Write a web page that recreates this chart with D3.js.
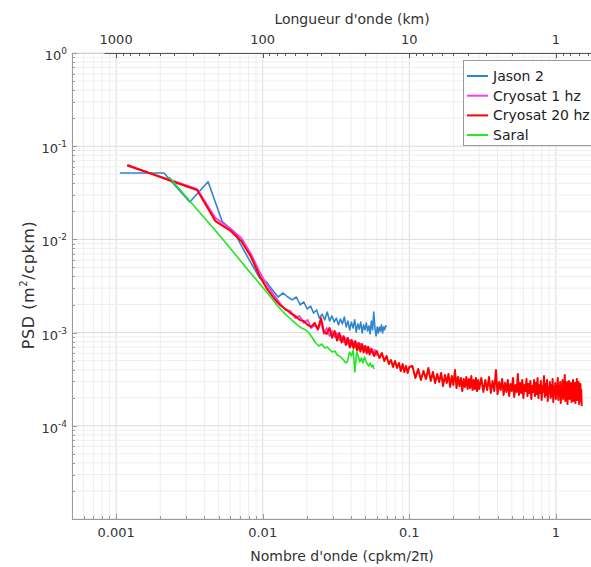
<!DOCTYPE html>
<html><head><meta charset="utf-8">
<script src="https://cdn.jsdelivr.net/npm/d3@7"></script>
<style>body{margin:0;background:#fff;} svg{display:block;font-family:"DejaVu Sans",sans-serif;}</style>
</head><body><svg id="c" width="591" height="567"></svg>
<script>
// ---------- data ----------
const xTickValues = [0.001, 0.01, 0.1, 1];
const xTickLabels = ["0.001", "0.01", "0.1", "1"];
const topTickValues = [1000, 100, 10, 1];
const topTickLabels = ["1000", "100", "10", "1"];
const yTickValues = [1, 0.1, 0.01, 0.001, 0.0001];
const yTickExponents = ["0", "-1", "-2", "-3", "-4"];
const seriesNames = ["Jason 2", "Cryosat 1 hz", "Cryosat 20 hz", "Saral"];
const seriesColors = ["#2f86cc", "#f23cf2", "#ff0000", "#22e622"];

const jasonFreq = [0.00106,0.00212,0.00318,0.00424,0.0053,0.00636,0.00742,0.00848,0.00954,0.0106,
0.01166,0.01272,0.01378,0.01484,0.0159,0.01696,0.01802,0.01908,0.02014,0.0212,
0.02226,0.02332,0.02438,0.02544,0.0265,0.02756,0.02862,0.02968,0.03074,0.0318,
0.03286,0.03392,0.03498,0.03604,0.0371,0.03816,0.03922,0.04028,0.04134,0.0424,
0.04346,0.04452,0.04558,0.04664,0.0477,0.04876,0.04982,0.05088,0.05194,0.053,
0.05406,0.05512,0.05618,0.05724,0.0583,0.05936,0.06042,0.06148,0.06254,0.0636,
0.06466,0.06572,0.06678,0.06784,0.0689,0.06996];
const jasonPsd = [0.0516,0.0516,0.0252,0.0416,0.0155,0.0121,0.0077,0.0053,0.00385,0.0035,
0.00286,0.00241,0.00266,0.00241,0.00224,0.00241,0.00198,0.00213,0.00179,0.00193,
0.00162,0.00175,0.00143,0.00158,0.00137,0.00166,0.00133,0.00151,0.0013,0.00143,
0.00121,0.0014,0.00124,0.00147,0.00115,0.00133,0.00107,0.0013,0.00112,0.00137,
0.00101,0.00124,0.00109,0.0013,0.00099,0.00121,0.00107,0.00127,0.00104,0.00118,
0.00097,0.00133,0.00107,0.00166,0.00112,0.00092,0.00115,0.00099,0.00115,0.00104,
0.00121,0.00099,0.00115,0.00107,0.00118,0.00115];

const cryo1Freq = [0.00119,0.00238,0.00357,0.00476,0.00595,0.00714,0.00833,0.00952,0.01071,0.0119,
0.01309,0.01428,0.01547,0.01666,0.01785,0.01904,0.02023,0.02142,0.02261,0.0238,
0.02499,0.02618,0.02737,0.02856,0.02975,0.03094,0.03213,0.03332,0.03451,0.0357,
0.03689,0.03808,0.03927,0.04046,0.04165,0.04284,0.04403,0.04522,0.04641,0.0476,
0.04879,0.04998,0.05117,0.05236,0.05355,0.05474,0.05593,0.05712,0.05831,0.0595,
0.06069];
const cryo1Psd = [0.0613,0.0434,0.0347,0.017,0.01326,0.01035,0.00697,0.00447,0.00324,0.00253,
0.00208,0.00175,0.00171,0.00143,0.00151,0.00127,0.00137,0.00112,0.00121,0.00107,
0.0013,0.00097,0.00112,0.00092,0.00104,0.000898,0.00099,0.000833,0.00092,0.000793,
0.000875,0.000755,0.000833,0.000718,0.000793,0.0007,0.000773,0.000667,0.000755,0.000667,
0.000718,0.000635,0.0007,0.000619,0.000684,0.000604,0.000667,0.000589,0.000651,0.000575,
0.000635];

const cryo20Freq = [0.00119,0.00238,0.00357,0.00476,0.00595,0.00714,0.00833,0.00952,0.01071,0.0119,
0.01309,0.01428,0.01547,0.01666,0.01785,0.01904,0.02023,0.02142,0.02261,0.0238,
0.02499,0.02618,0.02737,0.02856,0.02975,0.03094,0.03213,0.03332,0.03451,0.0357,
0.03689,0.03808,0.03927,0.04046,0.04165,0.04284,0.04403,0.04522,0.04641,0.0476,
0.04879,0.04998,0.05117,0.05236,0.05355,
0.055,0.0575,0.06,0.0625,0.065,0.0675,0.07,0.0725,0.075,0.0775,
0.08,0.0825,0.085,0.0875,0.09,0.0925,0.095,0.0975,0.1,
0.105,0.11,0.115,0.12,0.125,0.13,0.135,0.14,0.145,0.15,
0.155,0.16,0.165,0.17,0.175,0.18,0.185,0.19,0.195,0.2,
0.205,0.21,0.215,0.22,0.225,0.23,0.235,0.24,0.245,0.25,
0.255,0.26,0.265,0.27,0.275,0.28,0.285,0.29,0.295,0.3,
0.31,0.32,0.33,0.34,0.35,0.36,0.37,0.38,0.39,0.4,
0.41,0.42,0.43,0.44,0.45,0.46,0.47,0.48,0.49,0.5,
0.51,0.52,0.53,0.54,0.55,0.56,0.57,0.58,0.59,0.6,
0.61,0.62,0.63,0.64,0.65,0.66,0.67,0.68,0.69,0.7,
0.71,0.72,0.73,0.74,0.75,0.76,0.77,0.78,0.79,0.8,
0.81,0.82,0.83,0.84,0.85,0.86,0.87,0.88,0.89,0.9,
0.91,0.92,0.93,0.94,0.95,0.96,0.97,0.98,0.99,1.0,
1.01,1.02,1.03,1.04,1.05,1.06,1.07,1.08,1.09,1.1,
1.11,1.12,1.13,1.14,1.15,1.16,1.17,1.18,1.19,1.2,
1.21,1.22,1.23,1.24,1.25,1.26,1.27,1.28,1.29,1.3,
1.31,1.32,1.33,1.34,1.35,1.36,1.37,1.38,1.39,1.4,
1.41,1.42,1.43,1.44,1.45,1.46,1.47,1.48,1.49,1.5];
const cryo20Psd = [0.0629,0.0423,0.0339,0.0157,0.0126,0.00961,0.00647,0.00405,0.00294,0.00235,
0.00198,0.00179,0.00162,0.00151,0.00137,0.00133,0.00121,0.00115,0.00127,0.00109,
0.00143,0.00101,0.00097,0.00112,0.00088,0.00104,0.000822,0.00099,0.000782,0.000915,
0.000735,0.000875,0.000692,0.000833,0.000675,0.000812,0.000642,0.000775,0.000626,0.000755,
0.000612,0.00072,0.000598,0.000705,0.000582,
6.67e-4,5.61e-4,6.35e-4,5.34e-4,6.04e-4,4.95e-4,5.61e-4,4.61e-4,5.08e-4,4.28e-4,
4.95e-4,4.17e-4,4.72e-4,3.87e-4,4.61e-4,3.78e-4,4.38e-4,3.69e-4,4.28e-4,
4.38e-4,3.26e-4,4.07e-4,3.10e-4,3.87e-4,3.18e-4,4.17e-4,3.03e-4,3.78e-4,2.88e-4,
3.60e-4,2.95e-4,3.69e-4,2.67e-4,3.51e-4,2.88e-4,3.60e-4,2.61e-4,3.42e-4,2.74e-4,
3.97e-4,2.54e-4,3.34e-4,2.67e-4,3.26e-4,2.36e-4,3.18e-4,2.61e-4,3.34e-4,2.48e-4,
3.18e-4,2.54e-4,3.42e-4,2.42e-4,3.10e-4,2.48e-4,3.26e-4,2.36e-4,3.10e-4,2.48e-4,
3.26e-4,2.31e-4,3.10e-4,2.42e-4,3.34e-4,2.25e-4,3.03e-4,2.36e-4,3.97e-4,2.19e-4,
2.95e-4,2.42e-4,3.18e-4,2.14e-4,2.88e-4,2.31e-4,3.10e-4,2.09e-4,2.81e-4,2.36e-4,
3.26e-4,2.04e-4,2.74e-4,2.31e-4,3.60e-4,2.14e-4,2.88e-4,2.25e-4,3.10e-4,1.99e-4,
2.74e-4,2.36e-4,3.18e-4,2.09e-4,2.81e-4,2.25e-4,3.03e-4,1.94e-4,2.67e-4,2.31e-4,
3.10e-4,2.09e-4,2.88e-4,2.19e-4,3.26e-4,1.99e-4,2.74e-4,2.25e-4,3.03e-4,1.89e-4,
2.67e-4,2.31e-4,3.42e-4,2.04e-4,2.81e-4,2.14e-4,3.10e-4,1.85e-4,2.61e-4,2.25e-4,
2.95e-4,1.99e-4,2.74e-4,2.09e-4,3.18e-4,1.80e-4,2.61e-4,2.19e-4,2.88e-4,1.94e-4,
2.67e-4,2.14e-4,3.26e-4,1.89e-4,2.54e-4,2.25e-4,2.95e-4,1.76e-4,2.61e-4,2.09e-4,
3.10e-4,1.94e-4,2.67e-4,2.19e-4,3.51e-4,1.85e-4,2.54e-4,2.14e-4,2.95e-4,1.71e-4,
2.48e-4,2.09e-4,3.03e-4,1.94e-4,2.61e-4,2.14e-4,2.88e-4,1.80e-4,2.54e-4,2.19e-4,
3.10e-4,1.85e-4,2.67e-4,2.04e-4,2.88e-4,1.76e-4,2.48e-4,2.14e-4,3.18e-4,1.89e-4,
2.61e-4,2.09e-4,2.95e-4,1.71e-4,2.54e-4,1.99e-4,2.81e-4,1.85e-4,2.42e-4,1.63e-4];

const saralFreq = [0.0023,0.00345,0.0046,0.00575,0.0069,0.00805,0.0092,0.01035,0.0115,0.01265,
0.0138,0.01495,0.0161,0.01725,0.0184,0.01955,0.0207,0.02185,0.023,0.02415,
0.0253,0.02645,0.0276,0.02875,0.0299,0.03105,0.0322,0.03335,0.0345,0.03565,
0.0368,0.03795,0.0391,0.04025,0.0414,0.04255,0.0437,0.04485,0.046,0.04715,
0.0483,0.04945,0.0506,0.05175,0.0529,0.05405,0.0552,0.05635,0.0575];
const saralPsd = [0.0468,0.0223,0.01325,0.00871,0.00616,0.00458,0.00358,0.00287,0.00235,0.00193,
0.00166,0.00147,0.00133,0.00121,0.00112,0.00107,0.00099,0.000875,0.000773,0.000718,
0.000755,0.000684,0.0007,0.000651,0.000619,0.000635,0.000575,0.000561,0.000534,0.000508,
0.000472,0.000495,0.000619,0.000561,0.000651,0.000378,0.000619,0.000561,0.000484,0.000534,
0.000472,0.000547,0.000495,0.000461,0.000438,0.000472,0.000428,0.000449,0.000407];

// ---------- chart ----------
const svg = d3.select("#c");
const L = 72, R = 600, T = 53, B = 519;
const x = d3.scaleLog().domain([0.0005, 2]).range([L, R]);
const y = d3.scaleLog().domain([1e-5, 1]).range([B, T]);
const xTop = d3.scaleLog().domain([1200, 0.5]).range([x(1 / 1200), x(1 / 0.5)]);

const isMajor = v => Math.abs(Math.log10(v) - Math.round(Math.log10(v))) < 1e-6;

// grid
const grid = svg.append("g");
x.ticks().forEach(v => {
  grid.append("line").attr("x1", x(v)).attr("x2", x(v)).attr("y1", T).attr("y2", B)
    .attr("stroke", isMajor(v) ? "#dcdcdc" : "#eeeeee").attr("stroke-width", 1);
});
y.ticks().forEach(v => {
  grid.append("line").attr("x1", L).attr("x2", R).attr("y1", y(v)).attr("y2", y(v))
    .attr("stroke", isMajor(v) ? "#dcdcdc" : "#eeeeee").attr("stroke-width", 1);
});

// series
const series = [
  {f: jasonFreq, v: jasonPsd, w: 1.6},
  {f: cryo1Freq, v: cryo1Psd, w: 1.8},
  {f: cryo20Freq, v: cryo20Psd, w: 2.0},
  {f: saralFreq, v: saralPsd, w: 1.6}
];
const line = d3.line().x(d => x(d[0])).y(d => y(d[1]));
series.forEach((s, i) => {
  const pts = s.f.map((f, j) => [f, s.v[j]]);
  svg.append("path").attr("d", line(pts)).attr("fill", "none")
    .attr("stroke", seriesColors[i]).attr("stroke-width", s.w)
    .attr("stroke-linejoin", "round");
});

// axes frame
const ax = svg.append("g").attr("stroke", "#9a9a9a").attr("stroke-width", 1).attr("fill", "none");
ax.append("line").attr("x1", L + 0.5).attr("x2", L + 0.5).attr("y1", T).attr("y2", B + 0.5);
ax.append("line").attr("x1", L).attr("x2", R).attr("y1", B + 0.5).attr("y2", B + 0.5);
ax.append("line").attr("x1", L).attr("x2", xTop(1200)).attr("y1", T + 0.5).attr("y2", T + 0.5).attr("stroke", "#cfcfcf");

// bottom ticks (inside)
x.ticks().forEach(v => {
  const len = isMajor(v) ? 5 : 3;
  ax.append("line").attr("x1", Math.round(x(v)) + 0.5).attr("x2", Math.round(x(v)) + 0.5)
    .attr("y1", B).attr("y2", B - len);
});
// left ticks (inside)
y.ticks().forEach(v => {
  const len = isMajor(v) ? 5 : 3;
  ax.append("line").attr("y1", Math.round(y(v)) + 0.5).attr("y2", Math.round(y(v)) + 0.5)
    .attr("x1", L).attr("x2", L + len);
});

// top axis (wavelength)
const tax = svg.append("g").attr("stroke", "#555").attr("stroke-width", 1);
tax.append("line").attr("x1", xTop(1200)).attr("x2", R).attr("y1", T + 0.5).attr("y2", T + 0.5);
xTop.ticks().forEach(v => {
  const len = isMajor(v) ? 5 : 3;
  tax.append("line").attr("x1", Math.round(xTop(v)) + 0.5).attr("x2", Math.round(xTop(v)) + 0.5)
    .attr("y1", T).attr("y2", T + len);
});

const txt = svg.append("g").attr("fill", "#333").attr("font-size", 13);
xTickValues.forEach((v, i) => {
  txt.append("text").attr("x", x(v)).attr("y", 537).attr("text-anchor", "middle").text(xTickLabels[i]);
});
topTickValues.forEach((v, i) => {
  txt.append("text").attr("x", xTop(v)).attr("y", 44).attr("text-anchor", "middle").text(topTickLabels[i]);
});
yTickValues.forEach((v, i) => {
  const t = txt.append("text").attr("x", 67).attr("y", y(v) + 7).attr("text-anchor", "end");
  t.append("tspan").text("10");
  t.append("tspan").attr("font-size", 9).attr("dy", -6).text(yTickExponents[i]);
});

// axis titles
txt.append("text").attr("x", 352).attr("y", 24).attr("font-size", 14).attr("text-anchor", "middle").text("Longueur d'onde (km)");
txt.append("text").attr("x", 342).attr("y", 561).attr("font-size", 14).attr("text-anchor", "middle").text("Nombre d'onde (cpkm/2π)");
const yl = txt.append("text").attr("transform", "translate(34,285) rotate(-90)")
  .attr("text-anchor", "middle").attr("font-size", 16).attr("letter-spacing", 0.6);
yl.append("tspan").text("PSD (m");
yl.append("tspan").attr("font-size", 10).attr("dy", -7).text("2");
yl.append("tspan").attr("dy", 7).text("/cpkm)");

// legend
const lg = svg.append("g");
lg.append("rect").attr("x", 463.5).attr("y", 60.5).attr("width", 140).attr("height", 85)
  .attr("fill", "#fff").attr("stroke", "#9a9a9a");
seriesNames.forEach((n, i) => {
  const yy = 76 + i * 19.7;
  lg.append("line").attr("x1", 467).attr("x2", 488).attr("y1", yy).attr("y2", yy)
    .attr("stroke", seriesColors[i]).attr("stroke-width", 2);
  lg.append("text").attr("x", 493).attr("y", yy + 5).attr("font-size", 14).attr("fill", "#222").text(n);
});
</script>
</body></html>
